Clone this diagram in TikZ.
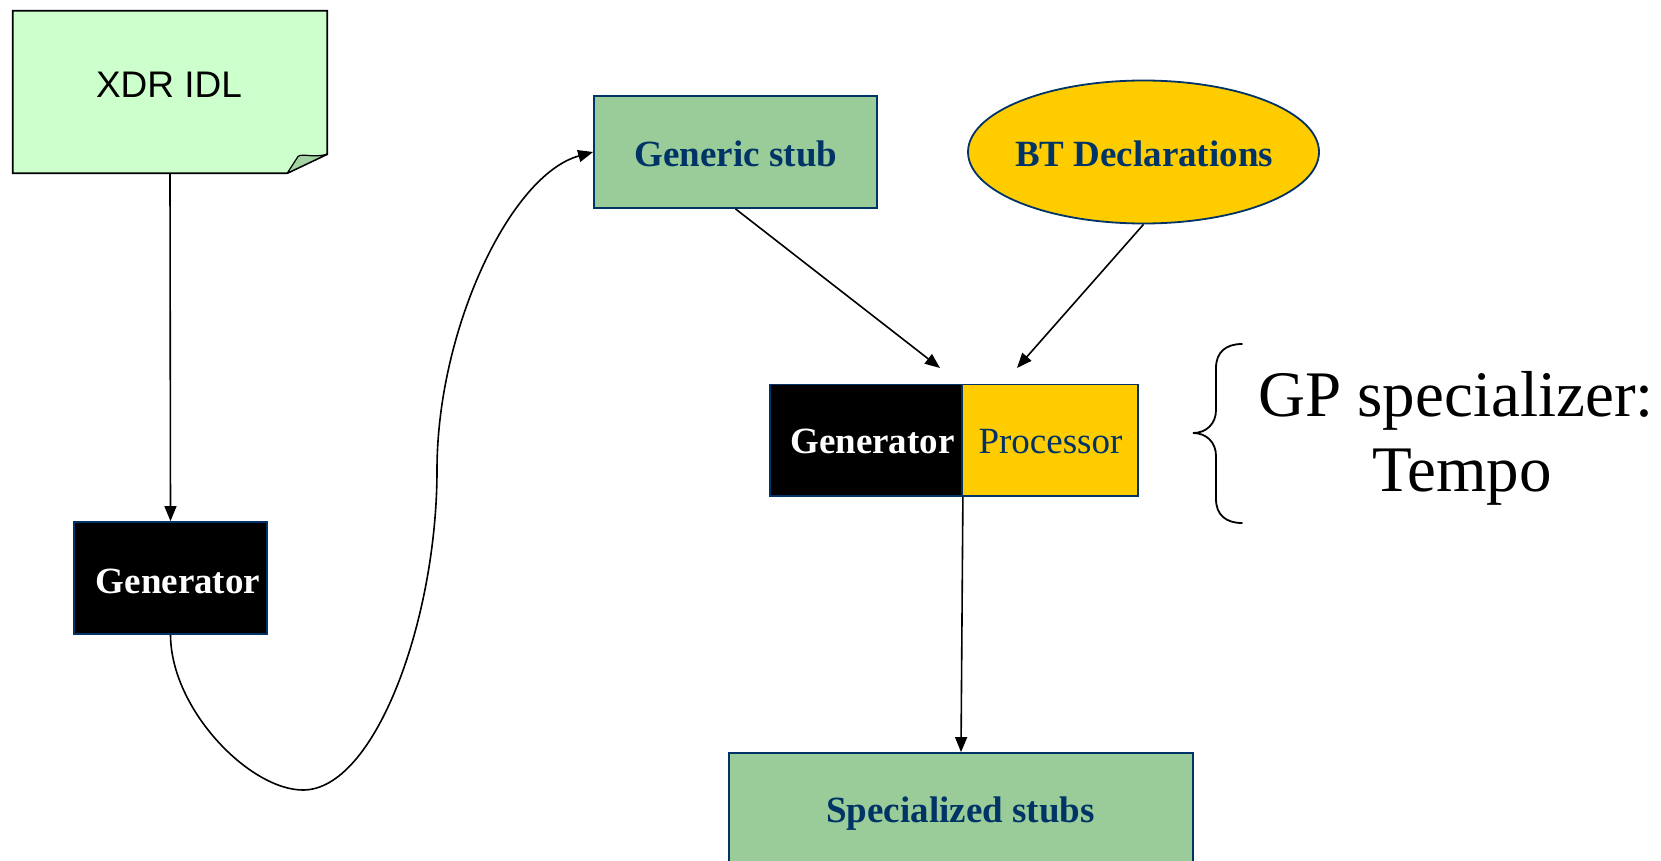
\documentclass[tikz,border=0pt]{standalone}
\usepackage{fontspec}
\setmainfont{Liberation Serif}
\newfontfamily\arialfont{Liberation Sans}
\usetikzlibrary{arrows.meta,shapes.geometric}

\definecolor{navy}{HTML}{003366}
\definecolor{notegreen}{HTML}{CCFFCC}
\definecolor{foldgreen}{HTML}{A3D3A3}
\definecolor{stubgreen}{HTML}{99CC99}
\definecolor{gold}{HTML}{FFCC00}

\begin{document}
\begin{tikzpicture}[x=1pt,y=-1pt,
  boxnode/.style={draw=navy,line width=1.8pt,inner sep=0pt,rectangle},
  lbl/.style={anchor=base,inner sep=0pt,text=navy,
    font=\fontsize{37}{44}\selectfont\bfseries},
  whitelbl/.style={lbl,text=white},
  biglbl/.style={anchor=base,inner sep=0pt,text=black,
    font=\fontsize{65}{76}\selectfont},
  link/.style={line width=1.6pt,-{Triangle[length=15pt,width=12pt]}}]

\useasboundingbox (0,0) rectangle (1661,861);

% ---- XDR IDL note with folded corner
\node[inner sep=0pt,minimum width=314pt,minimum height=162pt] (note) at (170,92) {};
\draw[line width=1.8pt,fill=notegreen,line join=miter]
  (note.north west) -- (note.north east) -- ([yshift=19pt]note.south east)
  -- ([xshift=-40pt]note.south east) -- (note.south west) -- cycle;
\draw[line width=1.2pt,fill=foldgreen,line join=round]
  ([xshift=-40pt]note.south east) -- ([xshift=-29pt,yshift=17pt]note.south east)
  .. controls ([xshift=-23pt,yshift=20pt]note.south east)
  and ([xshift=-15pt,yshift=15pt]note.south east) .. ([yshift=19pt]note.south east)
  -- cycle;
\node[anchor=base,inner sep=0pt,font=\arialfont\fontsize{37}{44}\selectfont]
  (notetext) at (169,98) {XDR IDL};

% ---- boxes
\node[boxnode,fill=black,minimum width=193pt,minimum height=112pt] (gen1) at (170.5,578) {};
\node[whitelbl] (gen1text) at (178,593) {Generator};

\node[boxnode,fill=stubgreen,minimum width=283pt,minimum height=112pt] (stub) at (735.5,152) {};
\node[lbl] (stubtext) at (736,167) {Generic stub};

\node[boxnode,ellipse,fill=gold,minimum width=351pt,minimum height=143pt] (bt) at (1143.5,152) {};
\node[lbl] (bttext) at (1144,167) {BT Declarations};

\node[boxnode,fill=black,minimum width=192pt,minimum height=111.5pt] (gen2) at (866,440.25) {};
\node[boxnode,fill=gold,minimum width=176pt,minimum height=111.5pt] (proc) at (1050,440.25) {};
\node[whitelbl] (gen2text) at (872.5,453) {Generator};
\node[lbl,font=\fontsize{37}{44}\selectfont] (proctext) at (1050.5,453) {Processor};

\node[boxnode,fill=stubgreen,minimum width=464pt,minimum height=147pt] (spec) at (961,826.5) {};
\node[lbl] (spectext) at (960.5,822) {Specialized stubs};

% ---- brace and its caption
\draw[line width=1.8pt,line cap=round]
  (1242,344) .. controls (1226,344) and (1216,352) .. (1216,368)
  -- (1216,410) .. controls (1216,424) and (1206,433) .. (1193,433)
  .. controls (1206,433) and (1216,442) .. (1216,456)
  -- (1216,499) .. controls (1216,515) and (1226,523) .. (1242,523);
\node[biglbl] (gp1) at (1456,416) {GP specializer:};
\node[biglbl] (gp2) at (1462,491) {Tempo};

% ---- connectors
\coordinate (loopbottom) at (303,790);
\coordinate (loopturn) at (437,470);
\coordinate (stubend) at (940,368);
\coordinate (btend) at (1017,368);

\draw[link] (note.south) -- (gen1.north);
\draw[link] (gen1.south) .. controls (171,710) and (250,790) .. (loopbottom)
  .. controls (375,790) and (437,620) .. (loopturn)
  .. controls (437,330) and (510,175) .. (stub.west);
\draw[link] (stub.south) -- (stubend);
\draw[link] (bt.south) -- (btend);
\draw[link] (gen2.south east) -- (spec.north);
\end{tikzpicture}
\end{document}
